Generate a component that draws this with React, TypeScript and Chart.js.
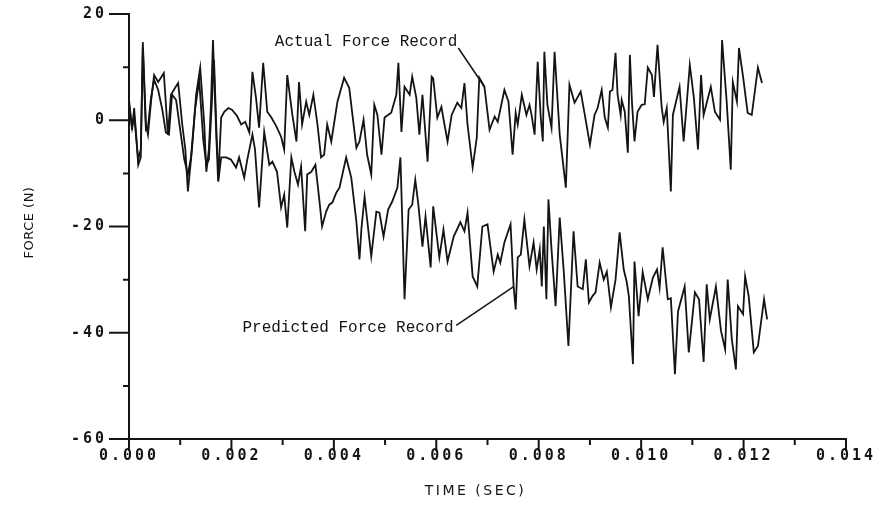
import React, { useEffect, useRef } from 'react';
import { Chart, registerables } from 'chart.js';

Chart.register(...registerables);

// ---------- data ----------
const actualTime = [
  0, 0.00002, 0.00006, 0.0001, 0.00014, 0.00018, 0.00023, 0.00027, 0.00033, 0.00037,
  0.00043, 0.00049, 0.00057, 0.00068, 0.00076, 0.00082, 0.0009, 0.00096, 0.00104, 0.0011,
  0.00115, 0.00123, 0.00131, 0.00139, 0.00147, 0.00151, 0.00156, 0.0016, 0.00164, 0.0017,
  0.00174, 0.0018, 0.00186, 0.00194, 0.00201, 0.00211, 0.00219, 0.00227, 0.00235, 0.00241,
  0.00248, 0.00254, 0.00262, 0.0027, 0.00278, 0.00287, 0.00297, 0.00303, 0.00309, 0.00319,
  0.00327, 0.00332, 0.00338, 0.00346, 0.00352, 0.0036, 0.00368, 0.00375, 0.00381, 0.00387,
  0.00395, 0.00407, 0.0042, 0.0043, 0.00444, 0.0045, 0.00458, 0.00465, 0.00473, 0.00479,
  0.00485, 0.00493, 0.00499, 0.00512, 0.00522, 0.00526, 0.00532, 0.00538, 0.00548, 0.00553,
  0.00561, 0.00567, 0.00573, 0.00583, 0.00591, 0.00594, 0.00602, 0.0061, 0.00616, 0.00622,
  0.0063, 0.00641, 0.00649, 0.00655, 0.00661, 0.00671, 0.00679, 0.00684, 0.00694, 0.00704,
  0.00714, 0.0072, 0.00733, 0.00741, 0.00749, 0.00755, 0.00759, 0.00767, 0.00776, 0.00782,
  0.00786, 0.00792, 0.00798, 0.00804, 0.00808, 0.00811, 0.00817, 0.00825, 0.00831, 0.00841,
  0.00853, 0.0086, 0.0087, 0.00882, 0.0089, 0.009, 0.00909, 0.00915, 0.00923, 0.00929,
  0.00935, 0.00939, 0.00944, 0.0095, 0.00954, 0.0096, 0.00962, 0.00968, 0.00974, 0.00978,
  0.00982, 0.00987, 0.00993, 0.01001, 0.01007, 0.01013, 0.01021, 0.01025, 0.01032, 0.0104,
  0.01044, 0.0105, 0.01058, 0.01062, 0.01075, 0.01083, 0.01095, 0.01103, 0.01111, 0.01117,
  0.01122, 0.01136, 0.01144, 0.01154, 0.01158, 0.01167, 0.01175, 0.01179, 0.01187, 0.01191,
  0.01199, 0.01208, 0.01216, 0.01228, 0.01236,
];
const actualForce = [
  0.1, 2.0, -1.8, 2.3, -2.7, -8.4, -7.0, 14.7, -0.8, -2.7,
  3.5, 8.5, 7.2, 8.9, -2.7, 4.8, 6.1, 7.0, -0.8, -5.5,
  -13.4, -5.5, 4.8, 9.9, -0.8, -9.7, -5.5, 2.9, 15.1, -1.8,
  -11.5, 0.5, 1.6, 2.3, 2.0, 0.8, -0.8, -0.3, -2.3, 9.1,
  4.2, -1.4, 10.8, 1.6, 0.5, -1.0, -3.1, -5.5, 8.5, 1.0,
  -4.0, 7.2, -0.8, 3.5, 1.0, 4.8, -0.8, -7.0, -6.5, -0.8,
  -4.0, 3.5, 8.0, 6.1, -5.2, -4.0, 0.1, -6.5, -10.2, 2.9,
  1.0, -6.5, 0.5, 1.4, 4.8, 10.8, -2.2, 6.3, 4.8, 8.2,
  4.2, -2.7, 4.8, -7.8, 8.2, 7.9, 0.5, 2.5, -0.8, -4.0,
  1.0, 3.3, 2.3, 7.0, -0.8, -8.9, -3.3, 8.0, 6.3, -1.8,
  0.7, -0.3, 5.7, 3.5, -6.5, 1.4, -0.8, 4.8, 1.0, 2.9,
  1.0, -2.7, 11.0, 0.5, -4.0, 12.9, 2.9, -1.4, 12.9, -2.7,
  -12.7, 6.7, 3.3, 5.4, 1.0, -4.6, 1.0, 2.3, 5.7, 0.5,
  -1.4, 5.4, 5.7, 12.7, 4.8, 1.0, 3.8, 1.6, -6.1, 12.3,
  3.5, -4.0, 1.6, 2.9, 3.0, 9.9, 8.5, 4.4, 14.2, 2.5,
  -0.3, 2.3, -13.4, 1.0, 6.3, -4.0, 10.4, 4.2, -5.5, 8.5,
  1.0, 6.3, 1.6, 0.1, 15.1, 3.5, -9.3, 7.2, 3.5, 13.6,
  8.2, 1.4, 1.0, 9.9, 7.0,
];
const predictedTime = [
  0, 0.00002, 0.00006, 0.0001, 0.00014, 0.00018, 0.00023, 0.00027, 0.00033, 0.00037,
  0.00043, 0.00049, 0.00057, 0.00065, 0.00072, 0.00078, 0.00084, 0.00092, 0.001, 0.00108,
  0.00115, 0.00121, 0.00129, 0.00137, 0.00145, 0.00151, 0.00156, 0.00162, 0.00166, 0.00172,
  0.00176, 0.0018, 0.0019, 0.00199, 0.00209, 0.00215, 0.00225, 0.00231, 0.00241, 0.00246,
  0.00254, 0.00264, 0.00274, 0.0028, 0.00289, 0.00297, 0.00303, 0.00309, 0.00317, 0.00323,
  0.0033, 0.00336, 0.00344, 0.00348, 0.00356, 0.00364, 0.00372, 0.00377, 0.00385, 0.00391,
  0.00397, 0.00405, 0.00411, 0.00424, 0.00434, 0.00444, 0.0045, 0.00454, 0.0046, 0.00465,
  0.00473, 0.00483, 0.00489, 0.00497, 0.00506, 0.00514, 0.00524, 0.0053, 0.00538, 0.00546,
  0.00553, 0.00559, 0.00565, 0.00573, 0.00579, 0.00589, 0.00594, 0.00606, 0.00614, 0.00622,
  0.00634, 0.00647, 0.00655, 0.00661, 0.00671, 0.0068, 0.0069, 0.007, 0.00712, 0.0072,
  0.00725, 0.00733, 0.00745, 0.00751, 0.00755, 0.00759, 0.00765, 0.00772, 0.00782, 0.0079,
  0.00796, 0.00802, 0.00806, 0.0081, 0.00815, 0.00819, 0.00825, 0.00833, 0.00841, 0.00849,
  0.00858, 0.00868, 0.00876, 0.00886, 0.00892, 0.00898, 0.00905, 0.00911, 0.00919, 0.00927,
  0.00933, 0.00941, 0.0095, 0.00958, 0.00966, 0.00972, 0.00976, 0.00984, 0.00987, 0.00995,
  0.01003, 0.01013, 0.01023, 0.01031, 0.01036, 0.01042, 0.01052, 0.01058, 0.01066, 0.01072,
  0.01085, 0.01093, 0.01105, 0.01113, 0.01122, 0.01128, 0.01134, 0.01146, 0.01156, 0.01164,
  0.01169, 0.01177, 0.01185, 0.01189, 0.01199, 0.01203, 0.0121, 0.0122, 0.01228, 0.0124,
  0.01246,
];
const predictedForce = [
  0.1, 1.6, -1.4, 1.0, -3.3, -7.4, -5.5, 13.6, -1.8, -1.4,
  4.2, 7.6, 5.7, 2.0, -2.3, -2.7, 4.8, 3.8, -1.8, -7.4,
  -10.2, -7.0, 2.0, 7.6, -3.7, -8.4, -7.4, 3.8, 11.4, -5.5,
  -10.2, -7.0, -7.0, -7.4, -8.9, -7.0, -10.8, -7.4, -2.7, -5.5,
  -16.4, -2.2, -8.4, -7.8, -9.7, -16.4, -14.0, -20.2, -7.0, -9.7,
  -12.1, -8.7, -20.9, -10.2, -9.7, -8.4, -15.3, -20.0, -17.2, -15.9,
  -15.5, -13.6, -12.7, -7.0, -10.8, -19.1, -26.2, -20.2, -14.4, -18.7,
  -25.6, -17.2, -17.4, -21.9, -16.8, -15.3, -12.7, -7.0, -33.7, -16.8,
  -15.9, -11.2, -15.9, -23.8, -18.1, -27.7, -16.2, -25.8, -20.6, -26.6,
  -21.9, -19.2, -20.9, -17.4, -29.4, -31.3, -20.0, -19.6, -28.5, -25.3,
  -26.8, -23.0, -19.6, -31.3, -35.6, -25.8, -25.3, -18.7, -27.5, -23.0,
  -28.1, -24.3, -31.3, -20.0, -33.7, -14.9, -24.3, -35.0, -18.3, -28.6,
  -42.5, -20.9, -31.3, -31.8, -26.2, -34.3, -33.1, -32.4, -26.8, -30.0,
  -28.5, -35.2, -30.0, -21.1, -28.1, -30.5, -33.1, -45.9, -26.6, -36.9,
  -28.6, -33.7, -29.6, -28.1, -31.5, -23.9, -33.7, -33.5, -47.8, -36.0,
  -31.3, -43.7, -32.4, -33.7, -45.5, -30.9, -37.5, -31.3, -39.7, -43.1,
  -30.0, -41.2, -46.9, -35.0, -36.5, -29.4, -33.1, -43.7, -42.5, -33.7,
  -37.5,
];

// ---------- axes ----------
const xMajorTicks = [0, 0.002, 0.004, 0.006, 0.008, 0.01, 0.012, 0.014];
const xMinorTicks = [0.001, 0.003, 0.005, 0.007, 0.009, 0.011, 0.013];
const yMajorTicks = [20, 0, -20, -40, -60];
const yMinorTicks = [10, -10, -30, -50];
const xTitle = 'TIME (SEC)';
const yTitle = 'FORCE (N)';

// ---------- annotation callouts (data coordinates) ----------
const calloutText = ['Actual Force Record', 'Predicted Force Record'];
const calloutTextAt = [
  [0.00641, 14.7],
  [0.00634, -39.0],
];
const calloutFrom = [
  [0.00643, 13.6],
  [0.00639, -38.6],
];
const calloutTo = [
  [0.00694, 6.3],
  [0.00751, -31.3],
];

const INK = '#141414';

const framePlugin = {
  id: 'frame',
  beforeDraw(chart: any) {
    chart.ctx.letterSpacing = '3px';
  },
  beforeDatasetsDraw(chart: any) {
    const ctx = chart.ctx;
    ctx.letterSpacing = '0px';
    const xs = chart.scales.x;
    const ys = chart.scales.y;
    const a = chart.chartArea;
    ctx.save();
    ctx.strokeStyle = INK;
    ctx.lineWidth = 2;
    ctx.beginPath();
    yMajorTicks.forEach((v) => {
      const p = ys.getPixelForValue(v);
      ctx.moveTo(a.left, p);
      ctx.lineTo(a.left - 20, p);
    });
    yMinorTicks.forEach((v) => {
      const p = ys.getPixelForValue(v);
      ctx.moveTo(a.left, p);
      ctx.lineTo(a.left - 6, p);
    });
    xMajorTicks.forEach((v) => {
      const p = xs.getPixelForValue(v);
      ctx.moveTo(p, a.bottom);
      ctx.lineTo(p, a.bottom + 12);
    });
    xMinorTicks.forEach((v) => {
      const p = xs.getPixelForValue(v);
      ctx.moveTo(p, a.bottom);
      ctx.lineTo(p, a.bottom + 6);
    });
    ctx.stroke();

    // axis titles
    ctx.fillStyle = INK;
    ctx.textAlign = 'center';
    ctx.textBaseline = 'middle';
    ctx.font = '14px "DejaVu Sans"';
    ctx.letterSpacing = '2.5px';
    ctx.fillText(xTitle, (a.left + a.right) / 2 - 12, xs.bottom - 16);
    ctx.save();
    ctx.translate(30, (a.top + a.bottom) / 2 - 4);
    ctx.rotate(-Math.PI / 2);
    ctx.font = '13px "DejaVu Sans"';
    ctx.letterSpacing = '0.5px';
    ctx.fillText(yTitle, 0, 0);
    ctx.restore();
    ctx.restore();
    ctx.letterSpacing = '0px';
  },
  afterDatasetsDraw(chart: any) {
    const ctx = chart.ctx;
    const xs = chart.scales.x;
    const ys = chart.scales.y;
    ctx.save();
    ctx.letterSpacing = '0px';
    ctx.fillStyle = INK;
    ctx.strokeStyle = INK;
    ctx.lineWidth = 1.5;
    ctx.font = '16px "Liberation Mono"';
    ctx.textAlign = 'right';
    ctx.textBaseline = 'middle';
    calloutText.forEach((t, i) => {
      ctx.fillText(t, xs.getPixelForValue(calloutTextAt[i][0]), ys.getPixelForValue(calloutTextAt[i][1]));
      ctx.beginPath();
      ctx.moveTo(xs.getPixelForValue(calloutFrom[i][0]), ys.getPixelForValue(calloutFrom[i][1]));
      ctx.lineTo(xs.getPixelForValue(calloutTo[i][0]), ys.getPixelForValue(calloutTo[i][1]));
      ctx.stroke();
    });
    ctx.restore();
  },
};

export default function App() {
  const ref = useRef<HTMLCanvasElement>(null);
  useEffect(() => {
    document.body.style.margin = '0';
    const toPts = (ts: number[], vs: number[]) => ts.map((t, i) => ({ x: t, y: vs[i] }));
    const tickFont = { family: '"DejaVu Sans Mono"', size: 15, weight: 'bold' as const };
    const chart = new Chart(ref.current as HTMLCanvasElement, {
      type: 'line',
      data: {
        datasets: [
          {
            label: 'Actual Force Record',
            data: toPts(actualTime, actualForce),
            borderColor: INK,
            borderWidth: 1.8,
            pointRadius: 0,
            tension: 0,
            fill: false,
          },
          {
            label: 'Predicted Force Record',
            data: toPts(predictedTime, predictedForce),
            borderColor: INK,
            borderWidth: 1.8,
            pointRadius: 0,
            tension: 0,
            fill: false,
          },
        ],
      },
      options: {
        animation: false,
        responsive: true,
        maintainAspectRatio: false,
        layout: { padding: { top: 14, right: 27, left: 0, bottom: 0 } },
        plugins: { legend: { display: false }, tooltip: { enabled: false } },
        scales: {
          x: {
            type: 'linear',
            min: 0,
            max: 0.014,
            afterBuildTicks: (s: any) => {
              s.ticks = xMajorTicks.map((v) => ({ value: v }));
            },
            afterFit: (s: any) => {
              s.height = 68;
              s.paddingLeft = 0;
              s.paddingRight = 0;
            },
            ticks: {
              autoSkip: false,
              maxRotation: 0,
              minRotation: 0,
              padding: 8,
              color: INK,
              font: tickFont,
              callback: (v: any) => Number(v).toFixed(3),
            },
            grid: { display: true, drawOnChartArea: false, drawTicks: false },
            border: { display: true, color: INK, width: 2 },
          },
          y: {
            type: 'linear',
            min: -60,
            max: 20,
            afterBuildTicks: (s: any) => {
              s.ticks = yMajorTicks.map((v) => ({ value: v }));
            },
            afterFit: (s: any) => {
              s.width = 129;
              s.paddingTop = 0;
              s.paddingBottom = 0;
            },
            ticks: {
              padding: 22,
              color: INK,
              font: tickFont,
              callback: (v: any) => String(v),
            },
            grid: { display: true, drawOnChartArea: false, drawTicks: false },
            border: { display: true, color: INK, width: 2 },
          },
        },
      },
      plugins: [framePlugin],
    });
    return () => chart.destroy();
  }, []);
  return (
    <div style={{ position: 'absolute', left: 0, top: 0, width: 873, height: 507 }}>
      <canvas ref={ref} />
    </div>
  );
}
